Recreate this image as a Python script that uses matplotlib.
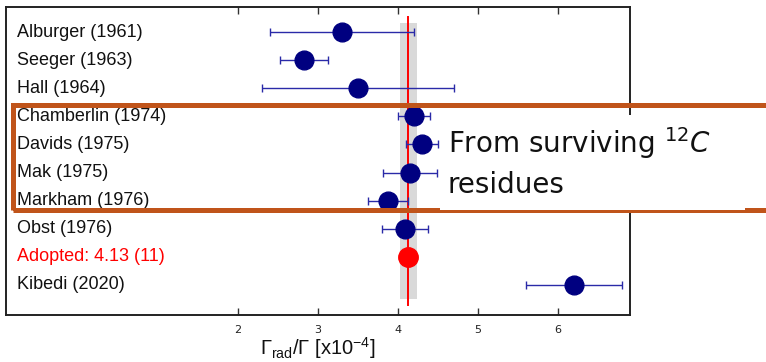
import matplotlib
matplotlib.use("Agg")
import matplotlib.pyplot as plt
from matplotlib.patches import Rectangle
import matplotlib.transforms as mtransforms

plt.rcParams["mathtext.fontset"] = "custom"
plt.rcParams["mathtext.rm"] = "Liberation Sans"
plt.rcParams["mathtext.it"] = "Liberation Sans:italic"

labels = ["Alburger (1961)", "Seeger (1963)", "Hall (1964)", "Chamberlin (1974)",
          "Davids (1975)", "Mak (1975)", "Markham (1976)", "Obst (1976)",
          "Adopted: 4.13 (11)", "Kibedi (2020)"]
values = [3.30, 2.82, 3.50, 4.20, 4.30, 4.15, 3.87, 4.09, 4.13, 6.20]
errors = [0.90, 0.30, 1.20, 0.20, 0.20, 0.34, 0.25, 0.29, 0.0, 0.60]
adopted_index = 8
adopted_value = 4.13
adopted_error = 0.11
xticks = [2, 3, 4, 5, 6]

W, H = 766, 362
fig = plt.figure(figsize=(W / 100, H / 100), dpi=100)
ax = fig.add_axes([6 / W, 1 - 315 / H, 624 / W, 308 / H])

def fx(px):
    return px / W

def fy(py):
    return 1 - py / H

navy = "#000080"

ax.fill_betweenx([-0.32, 9.5], adopted_value - adopted_error, adopted_value + adopted_error,
                 color="#d9d9d9", lw=0, zorder=1)
ax.plot([adopted_value, adopted_value], [-0.53, 9.71], color="red", lw=1.4, zorder=2)

blend = mtransforms.blended_transform_factory(ax.transAxes, ax.transData)
for i, (lab, v, e) in enumerate(zip(labels, values, errors)):
    if i == adopted_index:
        ax.plot(v, i, "o", color="red", ms=14, zorder=4)
    else:
        ax.errorbar(v, i, xerr=e, fmt="o", color=navy, ecolor="#2a2aa8",
                    elinewidth=1.0, capsize=3.2, capthick=1.0, ms=13.5, zorder=4)
    ax.text(11 / 624, i, lab, transform=blend,
            ha="left", va="center", fontsize=13, family="Liberation Sans",
            color="red" if i == adopted_index else "#111111")

ax.set_xlim(-0.9, 6.9)
ax.set_ylim(10.07, -0.89)
ax.set_yticks([])
ax.set_xticks(xticks)
ax.set_xticklabels([str(t) for t in xticks], fontsize=8, color="#222222")
ax.tick_params(axis="x", direction="in", top=True, length=5, width=1, color="#333333", pad=7)
for s in ax.spines.values():
    s.set_linewidth(1.4)
    s.set_color("#222222")

fig.text(fx(318), fy(355), r"$\Gamma_{\mathrm{rad}}/\Gamma$ [x10$^{-4}$]", fontsize=14.5,
         family="Liberation Sans", math_fontfamily="custom", ha="center", va="baseline",
         color="#111111")

orange = "#C0541A"
fig.add_artist(Rectangle((fx(12.5), fy(209.5)), fx(768) - fx(12.5), fy(105.5) - fy(209.5),
                         transform=fig.transFigure, fill=False, edgecolor=orange,
                         lw=3.6, zorder=5))
fig.add_artist(Rectangle((fx(440), fy(209.8)), fx(745) - fx(440), fy(115) - fy(209.8),
                         transform=fig.transFigure, facecolor="white", edgecolor="none",
                         zorder=6))
fig.text(fx(448), fy(153), r"From surviving $^{12}C$", fontsize=20, family="DejaVu Sans",
         math_fontfamily="dejavusans", ha="left", va="baseline", color="#111111", zorder=7)
fig.text(fx(448), fy(193), "residues", fontsize=20, family="DejaVu Sans",
         ha="left", va="baseline", color="#111111", zorder=7)

fig.savefig("out.png", dpi=100)
